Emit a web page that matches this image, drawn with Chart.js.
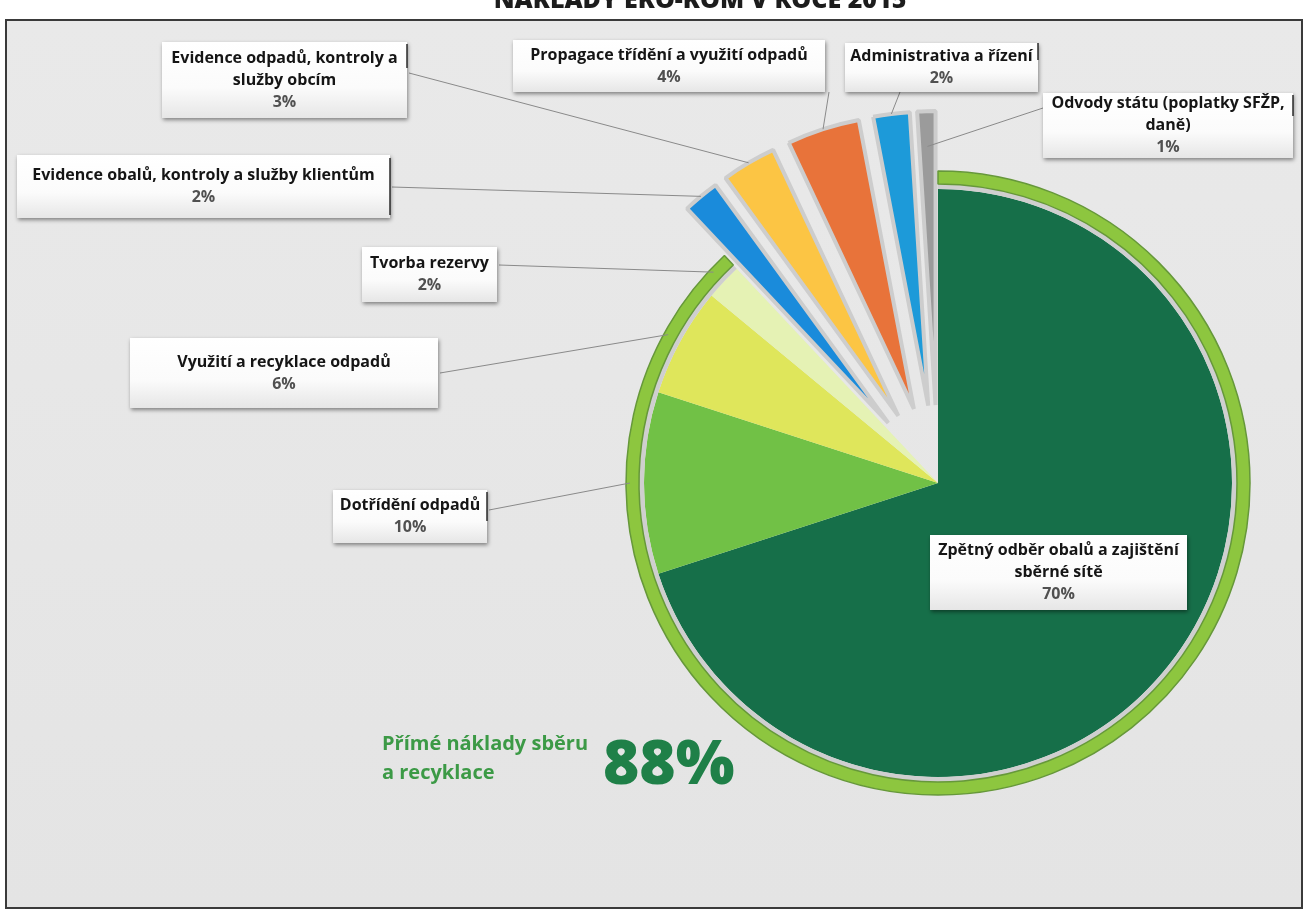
<!DOCTYPE html>
<html lang="cs">
<head>
<meta charset="utf-8">
<title>Náklady EKO-KOM v roce 2015</title>
<script src="https://cdn.jsdelivr.net/npm/chart.js@4/dist/chart.umd.min.js"></script>
<style>
  html, body { margin: 0; padding: 0; background: #fff; }
  #chart { display: block; }
</style>
</head>
<body>
<canvas id="chart" width="1306" height="914"></canvas>
<script>
const TITLE = "NÁKLADY EKO-KOM V ROCE 2015";

// slices, clockwise from 12 o'clock
const categories = [
  ["Zpětný odběr obalů a zajištění", "sběrné sítě"],
  ["Dotřídění odpadů"],
  ["Využití a recyklace odpadů"],
  ["Tvorba rezervy"],
  ["Evidence obalů, kontroly a služby klientům"],
  ["Evidence odpadů, kontroly a", "služby obcím"],
  ["Propagace třídění a využití odpadů"],
  ["Administrativa a řízení"],
  ["Odvody státu (poplatky SFŽP,", "daně)"],
];
const shares = [70, 10, 6, 2, 2, 3, 4, 2, 1];

// the first four slices are the direct costs of collection and recycling
const directCount = 4;
const directCaption = ["Přímé náklady sběru", "a recyklace"];

// ---- styling / layout ----
const sliceColors = [
  "#166f49", "#71c146", "#dfe65b", "#e5f2b4",
  "#1a8bdb", "#fcc544", "#e8733a", "#1d9ad9", "#9b9b9b",
];
const RING = "#8dc63f";
const RING_EDGE = "#66983a";
const GAP = "#cfcfcf";
const EXPLODE = 78;
const FONT = "'Open Sans', Lato, sans-serif";

// label boxes: [x, y, w, h, leader start x, leader start y] (null leader = none)
const boxes = [
  [930, 535, 257, 75, null, null],
  [333, 490, 154, 53, 489, 510],
  [130, 338, 308, 70, 440, 373],
  [362, 247, 135, 55, 499, 265],
  [17, 155, 373, 63, 392, 187],
  [162, 42, 245, 76, 409, 73],
  [513, 40, 312, 52, 829, 92],
  [845, 43, 193, 49, 900, 92],
  [1043, 93, 250, 65, 1043, 108],
];
// little dark handles on some box edges: [x, y1, y2]
const handles = [
  [407, 44, 68], [1038, 43, 60], [1293, 95, 116],
  [390, 158, 215], [487, 492, 521],
];

const total = shares.reduce((s, v) => s + v, 0);
const direct = shares.slice(0, directCount).reduce((s, v) => s + v, 0);
const ringData = [direct, total - direct];

const backdrop = {
  id: "backdrop",
  beforeDraw(chart) {
    const { ctx, width, height } = chart;
    ctx.save();
    ctx.fillStyle = "#ffffff";
    ctx.fillRect(0, 0, width, height);
    const g = ctx.createLinearGradient(0, 20, 0, 908);
    g.addColorStop(0, "#e9e9e9");
    g.addColorStop(1, "#e4e4e4");
    ctx.fillStyle = g;
    ctx.fillRect(6, 20, 1296, 888);
    ctx.strokeStyle = "#3a3a3a";
    ctx.lineWidth = 2;
    ctx.strokeRect(6, 20, 1296, 888);
    ctx.fillStyle = "#1c1c1c";
    ctx.font = `800 25px ${FONT}`;
    ctx.textAlign = "center";
    ctx.textBaseline = "alphabetic";
    ctx.fillText(TITLE, 700, 8);
    ctx.restore();
  },
};

// push the non-direct slices out along their mid angle
const explode = {
  id: "explode",
  afterDatasetUpdate(chart, args) {
    if (args.index !== 2) return;
    args.meta.data.forEach((arc, i) => {
      if (i < directCount) return;
      const mid = (arc.startAngle + arc.endAngle) / 2;
      arc.x += Math.cos(mid) * EXPLODE;
      arc.y += Math.sin(mid) * EXPLODE;
    });
  },
};

function drawBox(ctx, x, y, w, h) {
  ctx.save();
  ctx.shadowColor = "rgba(0,0,0,0.45)";
  ctx.shadowBlur = 4;
  ctx.shadowOffsetX = 1;
  ctx.shadowOffsetY = 2;
  const g = ctx.createLinearGradient(0, y, 0, y + h);
  g.addColorStop(0, "#ffffff");
  g.addColorStop(0.6, "#fbfbfb");
  g.addColorStop(1, "#e6e6e6");
  ctx.fillStyle = g;
  ctx.fillRect(x, y, w, h);
  ctx.restore();
}

const callouts = {
  id: "callouts",
  afterDatasetsDraw(chart) {
    const { ctx } = chart;
    const meta = chart.getDatasetMeta(2);
    ctx.save();
    // leader lines
    ctx.strokeStyle = "#8a8a8a";
    ctx.lineWidth = 1;
    meta.data.forEach((arc, i) => {
      const b = boxes[i];
      if (b[4] == null) return;
      const mid = (arc.startAngle + arc.endAngle) / 2;
      const r = arc.outerRadius * (i === shares.length - 1 ? 0.88 : 1) + (i < directCount ? 14 : 0);
      ctx.beginPath();
      ctx.moveTo(b[4], b[5]);
      ctx.lineTo(arc.x + Math.cos(mid) * r, arc.y + Math.sin(mid) * r);
      ctx.stroke();
    });
    // boxes and texts
    meta.data.forEach((arc, i) => {
      const [x, y, w, h] = boxes[i];
      drawBox(ctx, x, y, w, h);
      const lines = categories[i].concat([Math.round(shares[i] / total * 100) + "%"]);
      const lh = 22;
      const cx = x + w / 2;
      const top = y + h / 2 - (lines.length - 1) * lh / 2;
      ctx.textAlign = "center";
      ctx.textBaseline = "middle";
      lines.forEach((t, k) => {
        const last = k === lines.length - 1;
        ctx.fillStyle = last ? "#505050" : "#151515";
        ctx.font = `bold 16px ${FONT}`;
        ctx.fillText(t, cx, top + k * lh);
      });
    });
    ctx.strokeStyle = "#2a2a2a";
    ctx.lineWidth = 1.5;
    handles.forEach(([hx, y1, y2]) => {
      ctx.beginPath();
      ctx.moveTo(hx, y1);
      ctx.lineTo(hx, y2);
      ctx.stroke();
    });
    // direct costs caption
    ctx.textAlign = "left";
    ctx.textBaseline = "alphabetic";
    ctx.fillStyle = "#3c9a46";
    ctx.font = `bold 20px ${FONT}`;
    ctx.fillText(directCaption[0], 382, 750);
    ctx.fillText(directCaption[1], 382, 779);
    ctx.fillStyle = "#1f8048";
    ctx.font = `800 62px ${FONT}`;
    ctx.fillText(Math.round(direct / total * 100) + "%", 603, 784);
    ctx.restore();
  },
};

new Chart(document.getElementById("chart"), {
  type: "pie",
  data: {
    labels: categories,
    datasets: [
      {
        label: "přímé náklady",
        data: ringData,
        backgroundColor: [RING, "rgba(0,0,0,0)"],
        borderColor: [RING_EDGE, "rgba(0,0,0,0)"],
        borderWidth: 1.5,
        weight: 13,
      },
      {
        label: "mezera",
        data: ringData,
        backgroundColor: [GAP, "rgba(0,0,0,0)"],
        borderWidth: 0,
        weight: 5,
      },
      {
        label: "náklady",
        data: shares,
        backgroundColor: sliceColors,
        borderColor: "#cdcdcd",
        borderWidth: shares.map((_, i) => (i < directCount ? 0 : 4)),
        weight: 294,
      },
    ],
  },
  options: {
    responsive: false,
    animation: false,
    events: [],
    radius: 312,
    layout: { padding: { left: 570, right: 0, top: 52, bottom: 0 } },
    plugins: {
      legend: { display: false },
      tooltip: { enabled: false },
    },
  },
  plugins: [backdrop, explode, callouts],
});
</script>
</body>
</html>
